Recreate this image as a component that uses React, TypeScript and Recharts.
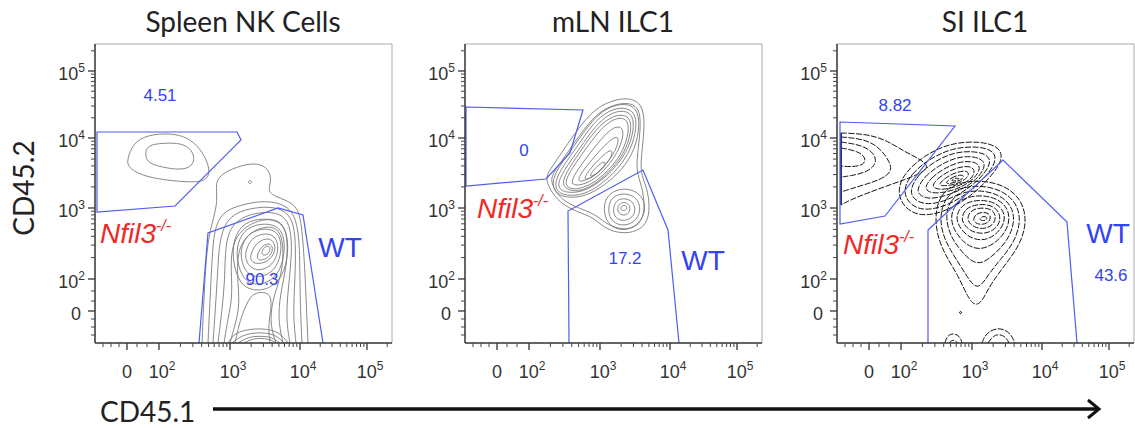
import React from "react";
import { ComposedChart, Line, XAxis, YAxis, ReferenceLine, ReferenceDot } from "recharts";

// display axis: biexponential channel units (about one unit per plot pixel)
const AXIS_MAX_X = 297;
const AXIS_MAX_Y = 299;
const MAJOR_TICKS = [32, 64, 135, 205, 272];
const MAJOR_EXP = ["", "2", "3", "4", "5"]; // "" is the plain 0 tick
const LINEAR_MINOR = [8, 16, 24, 42, 52];
const DECADES = [64, 135, 205, 272, 339];

const minorTicks: number[] = [...LINEAR_MINOR];
for (let d = 0; d < DECADES.length - 1; d++) {
  for (let k = 2; k <= 9; k++) {
    minorTicks.push(Math.round((DECADES[d] + Math.log10(k) * (DECADES[d + 1] - DECADES[d])) * 10) / 10);
  }
}
const X_TICKS = [...MAJOR_TICKS, ...minorTicks].filter((t) => t <= AXIS_MAX_X).sort((a, b) => a - b);
const Y_TICKS = [...MAJOR_TICKS, ...minorTicks].filter((t) => t <= AXIS_MAX_Y).sort((a, b) => a - b);

// ---------- Spleen NK cells ----------
const SPLEEN_GATE_KO = [[2, 211], [142, 211], [146, 203], [80, 137], [2, 131]];
const SPLEEN_GATE_WT = [[104, 0], [113, 110], [183, 135], [208, 128], [228, 0]];
const SPLEEN_LOOPS = [
  [[32, 183], [38, 200], [52, 208], [75, 210], [92, 206], [105, 195], [113, 180], [115, 168], [108, 161], [92, 161], [68, 163], [45, 168], [33, 176]],
  [[50, 190], [53, 198], [68, 200], [87, 200], [97, 193], [100, 183], [95, 175], [82, 173], [62, 177], [52, 181]],
  [[137, 98], [145, 118], [163, 125], [185, 123], [193, 108], [193, 83], [185, 61], [167, 51], [147, 55], [139, 75]],
  [[141, 95], [148, 113], [165, 120], [183, 118], [190, 105], [189, 83], [181, 65], [165, 57], [150, 61], [143, 77]],
  [[145, 93], [152, 109], [167, 115], [181, 113], [187, 101], [185, 83], [177, 70], [163, 65], [152, 69], [147, 80]],
  [[150, 91], [156, 105], [169, 110], [179, 108], [184, 98], [181, 83], [173, 75], [162, 72], [154, 77], [151, 83]],
  [[155, 88], [161, 100], [171, 105], [178, 103], [181, 95], [177, 85], [169, 80], [161, 79], [156, 82]],
  [[161, 87], [167, 97], [173, 100], [178, 97], [177, 89], [171, 84], [164, 82]],
  [[166, 91], [171, 98], [176, 96], [174, 89], [168, 87]],
  [[153, 162], [156, 163], [157, 160], [154, 159]],
];
const SPLEEN_OPEN = [
  [[107, 0], [110, 70], [113, 103], [118, 123], [123, 143], [120, 160], [127, 170], [147, 178], [162, 180], [173, 175], [177, 163], [172, 151], [182, 146], [198, 140], [205, 130], [208, 103], [210, 70], [213, 0]],
  [[113, 0], [115, 43], [117, 83], [119, 113], [127, 131], [145, 138], [170, 143], [193, 138], [203, 121], [205, 83], [205, 43], [207, 0]],
  [[118, 0], [121, 43], [123, 78], [125, 108], [135, 128], [155, 135], [180, 137], [197, 128], [201, 103], [200, 63], [198, 28], [201, 0]],
  [[123, 0], [127, 33], [130, 63], [130, 98], [137, 121], [160, 131], [185, 131], [196, 118], [197, 88], [193, 53], [191, 23], [195, 0]],
  [[129, 0], [133, 25], [138, 48], [135, 83], [140, 108], [160, 123], [185, 125], [193, 108], [192, 78], [185, 48], [183, 23], [188, 0]],
  [[135, 0], [140, 18], [145, 38], [142, 68], [143, 98], [160, 115], [183, 118], [189, 98], [187, 68], [177, 43], [175, 18], [181, 0]],
  [[140, 0], [145, 23], [153, 43], [160, 51], [175, 51], [177, 38], [173, 18], [175, 0]],
  [[133, 0], [140, 11], [160, 15], [183, 13], [193, 0]],
  [[137, 0], [147, 8], [163, 11], [180, 9], [189, 0]],
  [[143, 0], [153, 6], [165, 7], [177, 6], [185, 0]],
  [[149, 0], [157, 4], [167, 5], [177, 3], [181, 0]],
];
const SPLEEN_LABELS = [
  { x: 65, y: 248, text: "4.51", kind: "pct" },
  { x: 167, y: 64, text: "90.3", kind: "pct" },
  { x: 245, y: 96, text: "WT", kind: "wt" },
  { x: 5, y: 110, text: "Nfil3", kind: "ko" },
];

// ---------- mLN ILC1 ----------
const MLN_GATE_KO = [[1, 236], [118, 233], [105, 190], [81, 164], [1, 157]];
const MLN_GATE_WT = [[104, 0], [103, 132], [178, 173], [203, 113], [214, 0]];
const MLN_LOOPS = [
  [[80, 166], [87, 176], [105, 203], [125, 230], [142, 241], [162, 246], [177, 240], [180, 220], [177, 193], [175, 170], [182, 156], [185, 136], [182, 118], [168, 110], [152, 110], [138, 116], [128, 126], [112, 131], [95, 140], [85, 153]],
  [[85, 165], [92, 175], [109, 200], [128, 226], [144, 237], [162, 241], [174, 236], [176, 219], [173, 193], [171, 172], [177, 157], [180, 137], [177, 121], [166, 114], [153, 114], [140, 120], [130, 129], [113, 135], [97, 143], [89, 154]],
  [[87, 163], [95, 178], [110, 198], [127, 223], [143, 236], [160, 240], [172, 235], [175, 218], [170, 193], [157, 173], [140, 158], [120, 146], [100, 145], [89, 151]],
  [[90, 162], [98, 177], [112, 196], [128, 220], [144, 233], [159, 236], [170, 231], [172, 216], [166, 193], [153, 174], [137, 159], [119, 148], [101, 147], [91, 152]],
  [[93, 161], [101, 176], [115, 195], [130, 217], [145, 230], [159, 233], [168, 228], [169, 213], [163, 193], [150, 175], [135, 161], [118, 151], [102, 150], [94, 154]],
  [[96, 160], [104, 175], [117, 194], [131, 214], [145, 226], [158, 229], [166, 224], [166, 210], [160, 191], [147, 174], [132, 160], [117, 152], [103, 152]],
  [[99, 160], [107, 175], [120, 193], [133, 211], [146, 223], [157, 226], [164, 221], [163, 206], [156, 188], [143, 172], [129, 160], [115, 154], [104, 154]],
  [[105, 160], [113, 174], [125, 190], [136, 204], [147, 215], [155, 217], [159, 212], [156, 198], [148, 183], [136, 169], [123, 160], [111, 157]],
  [[111, 161], [119, 174], [130, 187], [140, 198], [149, 206], [154, 206], [152, 195], [144, 182], [132, 169], [120, 162]],
  [[117, 162], [125, 174], [134, 184], [143, 192], [148, 193], [146, 185], [138, 175], [127, 165]],
  [[123, 165], [129, 174], [136, 180], [141, 182], [139, 176], [132, 169]],
  [[138, 135], [142, 148], [155, 155], [170, 153], [180, 143], [180, 128], [170, 115], [155, 112], [142, 119]],
  [[143, 135], [146, 145], [156, 150], [168, 148], [175, 140], [175, 128], [167, 119], [155, 117], [145, 123]],
  [[148, 135], [151, 142], [157, 145], [166, 143], [170, 137], [170, 129], [164, 123], [155, 122], [149, 127]],
  [[152, 135], [155, 140], [160, 141], [165, 138], [165, 131], [160, 127], [154, 129]],
  [[155, 135], [158, 138], [162, 137], [162, 133], [157, 132]],
];
const MLN_OPEN: number[][][] = [];
const MLN_LABELS = [
  { x: 59, y: 193, text: "0", kind: "pct" },
  { x: 160, y: 85, text: "17.2", kind: "pct" },
  { x: 238, y: 83, text: "WT", kind: "wt" },
  { x: 12, y: 135, text: "Nfil3", kind: "ko" },
];

// ---------- SI ILC1 ----------
const SI_GATE_KO = [[3, 221], [118, 217], [48, 127], [3, 119]];
const SI_GATE_WT = [[91, 0], [91, 113], [166, 183], [230, 121], [240, 0]];
const SI_LOOPS = [
  [[60, 153], [68, 171], [88, 188], [113, 200], [143, 202], [163, 196], [166, 183], [153, 165], [133, 146], [108, 131], [83, 126], [66, 136]],
  [[66, 153], [74, 169], [92, 184], [115, 195], [141, 197], [158, 192], [159, 180], [147, 164], [129, 148], [107, 136], [85, 132], [71, 140]],
  [[73, 153], [80, 167], [96, 181], [117, 191], [139, 192], [153, 187], [153, 177], [142, 163], [125, 150], [106, 141], [88, 138], [76, 144]],
  [[80, 154], [87, 166], [101, 177], [119, 186], [137, 187], [148, 182], [147, 173], [137, 161], [122, 152], [105, 146], [91, 144], [82, 148]],
  [[87, 155], [94, 165], [106, 174], [121, 181], [135, 182], [143, 178], [142, 170], [132, 160], [118, 153], [104, 150], [93, 150]],
  [[94, 156], [100, 164], [110, 171], [122, 176], [133, 177], [138, 173], [136, 166], [127, 159], [115, 155], [103, 153]],
  [[101, 158], [107, 164], [115, 169], [124, 172], [131, 172], [132, 167], [126, 162], [116, 158], [107, 157]],
  [[108, 160], [114, 165], [121, 168], [127, 168], [126, 164], [119, 161], [112, 159]],
  [[113, 162], [118, 165], [123, 165], [120, 162]],
  [[98, 128], [103, 148], [118, 160], [143, 163], [168, 158], [185, 143], [190, 121], [183, 98], [168, 78], [153, 58], [145, 41], [138, 37], [131, 45], [121, 68], [108, 88], [100, 108]],
  [[103, 128], [108, 145], [121, 155], [143, 158], [165, 153], [180, 140], [184, 121], [177, 100], [163, 83], [151, 68], [143, 55], [135, 58], [125, 75], [113, 93], [105, 110]],
  [[108, 126], [113, 143], [125, 151], [145, 153], [163, 148], [175, 137], [178, 121], [171, 103], [158, 89], [145, 79], [135, 81], [125, 91], [114, 105]],
  [[113, 125], [118, 139], [129, 146], [146, 148], [161, 144], [171, 135], [173, 121], [166, 107], [154, 97], [141, 93], [128, 99], [118, 111]],
  [[118, 124], [123, 136], [133, 142], [147, 143], [159, 140], [167, 132], [168, 121], [161, 110], [150, 103], [138, 103], [126, 110]],
  [[124, 124], [128, 134], [137, 138], [148, 139], [158, 136], [163, 129], [163, 120], [156, 112], [146, 109], [135, 111], [128, 117]],
  [[130, 124], [133, 132], [141, 135], [150, 135], [157, 132], [159, 125], [156, 118], [148, 114], [139, 115], [133, 119]],
  [[136, 124], [139, 129], [145, 131], [152, 130], [154, 125], [151, 120], [144, 118], [138, 120]],
  [[142, 124], [146, 127], [150, 126], [150, 123], [145, 122]],
  [[122, 31], [124, 32], [125, 30], [123, 29]],
];
const SI_OPEN = [
  [[4, 210], [31, 209], [51, 202], [68, 191], [85, 183], [93, 175], [78, 167], [58, 160], [33, 151], [13, 143], [4, 138]],
  [[4, 206], [28, 204], [43, 195], [53, 181], [55, 171], [43, 163], [23, 157], [4, 151]],
  [[4, 201], [25, 198], [37, 190], [40, 180], [31, 171], [13, 167], [4, 166]],
  [[4, 195], [21, 192], [29, 185], [27, 178], [15, 176], [4, 177]],
  [[108, 0], [110, 7], [116, 10], [123, 7], [125, 0]],
  [[112, 0], [116, 4], [121, 0]],
  [[145, 0], [149, 10], [161, 16], [173, 11], [178, 0]],
  [[151, 0], [156, 7], [162, 9], [169, 6], [172, 0]],
];
const SI_EDGE = [[4, 138], [4, 210]];
const SI_LABELS = [
  { x: 58, y: 238, text: "8.82", kind: "pct" },
  { x: 274, y: 68, text: "43.6", kind: "pct" },
  { x: 271, y: 110, text: "WT", kind: "wt" },
  { x: 6, y: 99, text: "Nfil3", kind: "ko" },
];

const TITLES = ["Spleen NK Cells", "mLN ILC1", "SI ILC1"];
const PLOT_LEFT = [95, 465, 837];

const FONT = "'Liberation Sans', Arial, sans-serif";
const TITLE_FONT = "Lato, 'Open Sans', sans-serif";
const GATE_BLUE = "#4f5cf2";

const toPts = (arr: number[][]) => arr.map(([x, y]) => ({ x, y }));

function XTick(props: any) {
  const { x, y, payload } = props;
  const i = MAJOR_TICKS.indexOf(payload.value);
  if (i < 0) return <line x1={x} x2={x} y1={y} y2={y + 4} stroke="#444" strokeWidth={1} />;
  const e = MAJOR_EXP[i];
  return (
    <g>
      <line x1={x} x2={x} y1={y} y2={y + 7} stroke="#333" strokeWidth={1.3} />
      <text x={e ? x + 3 : x} y={y + 35} textAnchor="middle" fontSize={18} fill="#333" fontFamily={FONT}>
        {e ? (
          <>
            10<tspan dy={-8} fontSize={12}>{e}</tspan>
          </>
        ) : (
          "0"
        )}
      </text>
    </g>
  );
}

function YTick(props: any) {
  const { x, y, payload } = props;
  const i = MAJOR_TICKS.indexOf(payload.value);
  if (i < 0) return <line x1={x} x2={x - 4} y1={y} y2={y} stroke="#444" strokeWidth={1} />;
  const e = MAJOR_EXP[i];
  return (
    <g>
      <line x1={x} x2={x - 7} y1={y} y2={y} stroke="#333" strokeWidth={1.3} />
      <text x={e ? x - 10 : x - 14} y={y + 9} textAnchor="end" fontSize={18} fill="#333" fontFamily={FONT}>
        {e ? (
          <>
            10<tspan dy={-8} fontSize={12}>{e}</tspan>
          </>
        ) : (
          "0"
        )}
      </text>
    </g>
  );
}

function LabelShape(props: any) {
  const { cx, cy, label } = props;
  if (label.kind === "ko") {
    return (
      <text x={cx} y={cy + 10} fontSize={28} fill="#f02828" fontFamily={FONT} fontStyle="italic">
        {label.text}
        <tspan dy={-12} fontSize={16}>-/-</tspan>
      </text>
    );
  }
  const wt = label.kind === "wt";
  return (
    <text x={cx} y={cy} dy={wt ? 10 : 6} textAnchor="middle" fontSize={wt ? 28 : 17} fill="#3344ee" fontFamily={FONT}>
      {label.text}
    </text>
  );
}

interface PanelSpec {
  left: number;
  loops: number[][][];
  open: number[][][];
  koGate: number[][];
  wtGate: number[][];
  labels: { x: number; y: number; text: string; kind: string }[];
  edge?: number[][];
  black?: boolean;
}

function FlowPanel({ p }: { p: PanelSpec }) {
  const stroke = p.black ? "#151515" : "#7a7a7a";
  const dash = p.black ? "6 1.5" : undefined;
  const width = p.black ? 1 : 0.9;
  return (
    <div style={{ position: "absolute", left: p.left - 60, top: 0 }}>
      <ComposedChart width={362} height={388} margin={{ top: 44, right: 5, bottom: 5, left: 0 }}>
        <XAxis
          type="number"
          dataKey="x"
          domain={[0, AXIS_MAX_X]}
          ticks={X_TICKS}
          interval={0}
          tick={(t: any) => <XTick {...t} />}
          tickLine={false}
          tickSize={0}
          tickMargin={0}
          height={40}
          axisLine={{ stroke: "#333", strokeWidth: 1.5 }}
          allowDataOverflow
        />
        <YAxis
          type="number"
          dataKey="y"
          domain={[0, AXIS_MAX_Y]}
          ticks={Y_TICKS}
          interval={0}
          tick={(t: any) => <YTick {...t} />}
          tickLine={false}
          tickSize={0}
          tickMargin={0}
          width={60}
          axisLine={{ stroke: "#333", strokeWidth: 1.5 }}
          allowDataOverflow
        />
        <ReferenceLine y={AXIS_MAX_Y} stroke="#aaa" strokeWidth={1} />
        <ReferenceLine x={AXIS_MAX_X} stroke="#aaa" strokeWidth={1} />
        {p.loops.map((c, i) => (
          <Line
            key={"l" + i}
            data={toPts(c)}
            dataKey="y"
            type="basisClosed"
            stroke={stroke}
            strokeWidth={width}
            strokeDasharray={dash}
            dot={false}
            activeDot={false}
            isAnimationActive={false}
          />
        ))}
        {p.open.map((c, i) => (
          <Line
            key={"o" + i}
            data={toPts(c)}
            dataKey="y"
            type="basis"
            stroke={stroke}
            strokeWidth={width}
            strokeDasharray={dash}
            dot={false}
            activeDot={false}
            isAnimationActive={false}
          />
        ))}
        {p.edge && (
          <Line data={toPts(p.edge)} dataKey="y" type="linear" stroke="#2a2f80" strokeWidth={2} dot={false} activeDot={false} isAnimationActive={false} />
        )}
        <Line data={toPts(p.koGate)} dataKey="y" type="linearClosed" stroke={GATE_BLUE} strokeWidth={1.2} dot={false} activeDot={false} isAnimationActive={false} />
        <Line data={toPts(p.wtGate)} dataKey="y" type="linear" stroke={GATE_BLUE} strokeWidth={1.2} dot={false} activeDot={false} isAnimationActive={false} />
        {p.labels.map((l, i) => (
          <ReferenceDot key={"t" + i} x={l.x} y={l.y} r={0} shape={(s: any) => <LabelShape {...s} label={l} />} />
        ))}
      </ComposedChart>
    </div>
  );
}

const PANELS: PanelSpec[] = [
  { left: PLOT_LEFT[0], loops: SPLEEN_LOOPS, open: SPLEEN_OPEN, koGate: SPLEEN_GATE_KO, wtGate: SPLEEN_GATE_WT, labels: SPLEEN_LABELS },
  { left: PLOT_LEFT[1], loops: MLN_LOOPS, open: MLN_OPEN, koGate: MLN_GATE_KO, wtGate: MLN_GATE_WT, labels: MLN_LABELS },
  { left: PLOT_LEFT[2], loops: SI_LOOPS, open: SI_OPEN, koGate: SI_GATE_KO, wtGate: SI_GATE_WT, labels: SI_LABELS, edge: SI_EDGE, black: true },
];

export default function App() {
  return (
    <div style={{ position: "absolute", left: 0, top: 0, width: 1135, height: 429, overflow: "hidden", background: "#fff" }}>
      {PANELS.map((p, i) => (
        <FlowPanel key={i} p={p} />
      ))}
      <svg width={1135} height={429} style={{ position: "absolute", left: 0, top: 0, pointerEvents: "none" }}>
        {TITLES.map((t, i) => (
          <text key={t} x={PLOT_LEFT[i] + 148} y={32} textAnchor="middle" fontSize={28} fill="#222" fontFamily={TITLE_FONT}>
            {t}
          </text>
        ))}
        <text transform="translate(34,188) rotate(-90)" textAnchor="middle" fontSize={28} fill="#222" fontFamily={TITLE_FONT}>
          CD45.2
        </text>
        <text x={100} y={422} fontSize={28} fill="#222" fontFamily={TITLE_FONT}>
          CD45.1
        </text>
        <line x1={213} y1={409} x2={1098} y2={409} stroke="#111" strokeWidth={3.5} />
        <polyline points="1088,400 1099,409 1088,418" fill="none" stroke="#111" strokeWidth={3} />
      </svg>
    </div>
  );
}
